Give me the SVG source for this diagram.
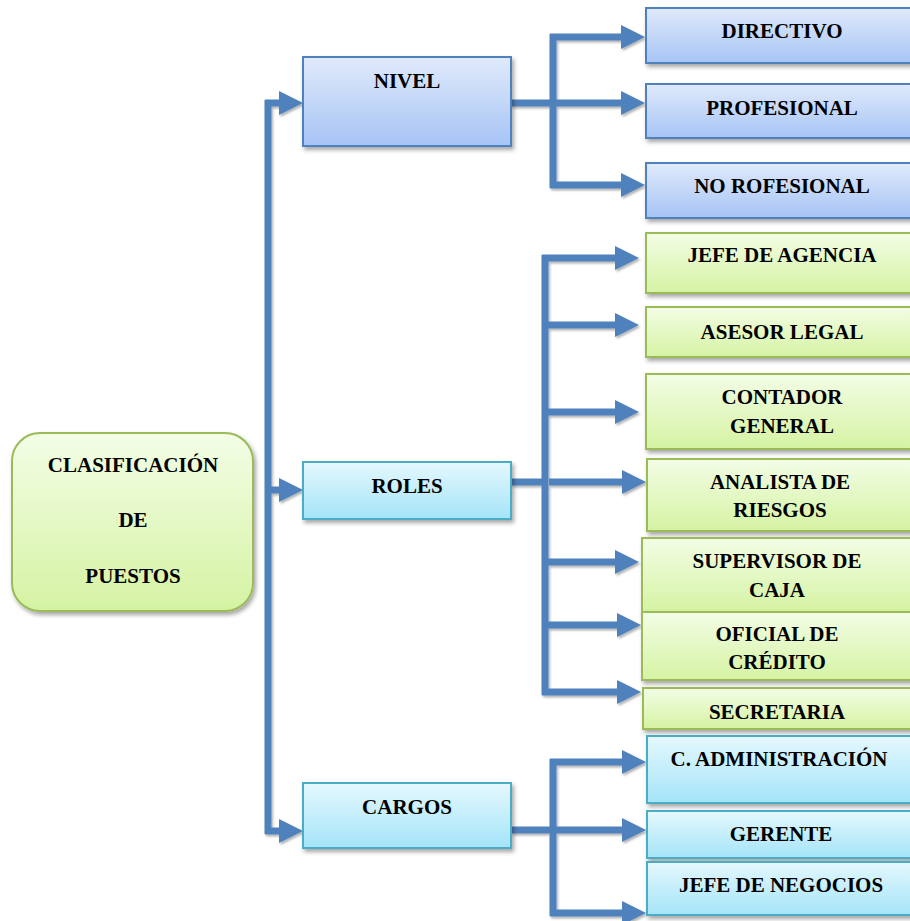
<svg xmlns="http://www.w3.org/2000/svg" width="910" height="921" viewBox="0 0 910 921">
  <defs>
    <linearGradient id="gGreen" x1="0" y1="0" x2="0" y2="1">
      <stop offset="0" stop-color="#f3fde6"/>
      <stop offset="1" stop-color="#d5f3a3"/>
    </linearGradient>
    <linearGradient id="gBlue" x1="0" y1="0" x2="0" y2="1">
      <stop offset="0" stop-color="#e0eafb"/>
      <stop offset="1" stop-color="#a6c4f5"/>
    </linearGradient>
    <linearGradient id="gCyan" x1="0" y1="0" x2="0" y2="1">
      <stop offset="0" stop-color="#e5f8fe"/>
      <stop offset="1" stop-color="#a4e4f8"/>
    </linearGradient>
    <filter id="shadow" x="-10%" y="-20%" width="130%" height="150%">
      <feDropShadow dx="2" dy="3" stdDeviation="2" flood-color="#000" flood-opacity="0.35"/>
    </filter>
    <filter id="lineShadow" x="-10%" y="-10%" width="130%" height="130%">
      <feDropShadow dx="1.5" dy="2" stdDeviation="1.2" flood-color="#000" flood-opacity="0.3"/>
    </filter>
    <marker id="head" markerUnits="userSpaceOnUse" markerWidth="25" markerHeight="26" refX="1" refY="13" orient="auto">
      <path d="M0,1 L24,13 L0,25 Z" fill="#4f81bd"/>
    </marker>
  </defs>
  <style>
    .green { fill: url(#gGreen); stroke: #9bbb59; stroke-width: 2; filter: url(#shadow); }
    .blue { fill: url(#gBlue); stroke: #4f81bd; stroke-width: 2; filter: url(#shadow); }
    .cyan { fill: url(#gCyan); stroke: #4bacc6; stroke-width: 2; filter: url(#shadow); }
    .lbl { font-family: "Liberation Serif", "Times New Roman", serif; font-weight: bold; font-size: 21px; fill: #000; text-anchor: middle; }
    .ln { fill: none; stroke: #4f81bd; stroke-width: 7; }
    .ar { fill: none; stroke: #4f81bd; stroke-width: 7; marker-end: url(#head); }
  </style>

  <!-- connectors -->
  <g id="connectors" filter="url(#lineShadow)">
    <!-- main spine -->
    <path class="ln" d="M268 100 V834"/>
    <path class="ar" d="M265 103 H280"/>
    <path class="ar" d="M265 490 H280"/>
    <path class="ar" d="M265 831 H280"/>
    <!-- NIVEL branch -->
    <path class="ln" d="M511 103 H553"/>
    <path class="ln" d="M553 34 V188"/>
    <path class="ar" d="M550 37 H622"/>
    <path class="ar" d="M550 103 H622"/>
    <path class="ar" d="M550 185 H622"/>
    <!-- ROLES branch -->
    <path class="ln" d="M511 482 H545"/>
    <path class="ln" d="M545 255 V695"/>
    <path class="ar" d="M542 258 H616"/>
    <path class="ar" d="M542 325 H616"/>
    <path class="ar" d="M542 412 H616"/>
    <path class="ar" d="M549 482 H623"/>
    <path class="ar" d="M542 562 H616"/>
    <path class="ar" d="M542 625 H618"/>
    <path class="ar" d="M542 692 H618"/>
    <!-- CARGOS branch -->
    <path class="ln" d="M511 830 H553"/>
    <path class="ln" d="M553 759 V916"/>
    <path class="ar" d="M550 762 H623"/>
    <path class="ar" d="M550 830 H623"/>
    <path class="ar" d="M550 913 H623"/>
  </g>

  <!-- root -->
  <g id="clasificacion">
    <rect class="green" x="12" y="433" width="241" height="178" rx="28"/>
    <text class="lbl" x="133" y="472">CLASIFICACIÓN</text>
    <text class="lbl" x="133" y="527">DE</text>
    <text class="lbl" x="133" y="583">PUESTOS</text>
  </g>

  <!-- level 1 -->
  <g id="nivel">
    <rect class="blue" x="303" y="57" width="208" height="89"/>
    <text class="lbl" x="407" y="88">NIVEL</text>
  </g>
  <g id="roles">
    <rect class="cyan" x="303" y="462" width="208" height="57"/>
    <text class="lbl" x="407" y="493">ROLES</text>
  </g>
  <g id="cargos">
    <rect class="cyan" x="303" y="783" width="208" height="65"/>
    <text class="lbl" x="407" y="814">CARGOS</text>
  </g>

  <!-- NIVEL children -->
  <g id="directivo">
    <rect class="blue" x="646" y="8" width="275" height="55"/>
    <text class="lbl" x="782" y="38">DIRECTIVO</text>
  </g>
  <g id="profesional">
    <rect class="blue" x="646" y="84" width="275" height="54"/>
    <text class="lbl" x="782" y="115">PROFESIONAL</text>
  </g>
  <g id="no-profesional">
    <rect class="blue" x="646" y="163" width="275" height="55"/>
    <text class="lbl" x="782" y="193">NO ROFESIONAL</text>
  </g>

  <!-- ROLES children -->
  <g id="jefe-agencia">
    <rect class="green" x="646" y="233" width="275" height="60"/>
    <text class="lbl" x="782" y="262">JEFE DE AGENCIA</text>
  </g>
  <g id="asesor-legal">
    <rect class="green" x="646" y="307" width="275" height="50"/>
    <text class="lbl" x="782" y="339">ASESOR LEGAL</text>
  </g>
  <g id="contador-general">
    <rect class="green" x="646" y="374" width="275" height="75"/>
    <text class="lbl" x="782" y="404">CONTADOR</text>
    <text class="lbl" x="782" y="433">GENERAL</text>
  </g>
  <g id="analista-riesgos">
    <rect class="green" x="647" y="459" width="275" height="72"/>
    <text class="lbl" x="780" y="489">ANALISTA DE</text>
    <text class="lbl" x="780" y="517">RIESGOS</text>
  </g>
  <g id="supervisor-caja">
    <rect class="green" x="642" y="538" width="278" height="74"/>
    <text class="lbl" x="777" y="568">SUPERVISOR DE</text>
    <text class="lbl" x="777" y="597">CAJA</text>
  </g>
  <g id="oficial-credito">
    <rect class="green" x="642" y="612" width="278" height="68"/>
    <text class="lbl" x="777" y="641">OFICIAL DE</text>
    <text class="lbl" x="777" y="669">CRÉDITO</text>
  </g>
  <g id="secretaria">
    <rect class="green" x="643" y="688" width="278" height="41"/>
    <text class="lbl" x="777" y="719">SECRETARIA</text>
  </g>

  <!-- CARGOS children -->
  <g id="c-administracion">
    <rect class="cyan" x="647" y="736" width="275" height="67"/>
    <text class="lbl" x="779" y="766">C. ADMINISTRACIÓN</text>
  </g>
  <g id="gerente">
    <rect class="cyan" x="647" y="811" width="275" height="47"/>
    <text class="lbl" x="781" y="841">GERENTE</text>
  </g>
  <g id="jefe-negocios">
    <rect class="cyan" x="647" y="862" width="275" height="53"/>
    <text class="lbl" x="781" y="892">JEFE DE NEGOCIOS</text>
  </g>
</svg>
